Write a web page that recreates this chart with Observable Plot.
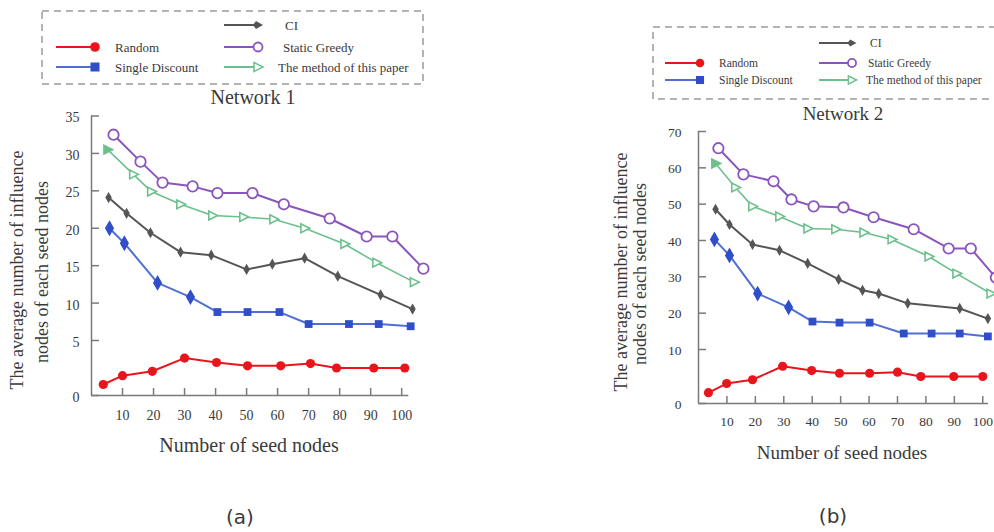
<!DOCTYPE html>
<html><head><meta charset="utf-8">
<script src="https://cdn.jsdelivr.net/npm/d3@7"></script>
<script src="https://cdn.jsdelivr.net/npm/@observablehq/plot@0.6"></script>
<style>
html,body{margin:0;padding:0;background:#fff;}
body{width:994px;height:532px;overflow:hidden;position:relative;font-family:"Liberation Serif","Times New Roman",serif;color:#333;}
.abs{position:absolute;white-space:nowrap;line-height:1;}
.rot{transform:translate(-50%,-50%) rotate(-90deg);}
.ctr{transform:translate(-50%,-50%);}
svg text{font-family:"Liberation Serif","Times New Roman",serif;}
</style></head><body>
<script>
// ---------- data ----------
const seriesNames = ["Random", "Single Discount", "CI", "Static Greedy", "The method of this paper"];
const xTickValues = [10, 20, 30, 40, 50, 60, 70, 80, 90, 100];
const net1YTicks = [0, 5, 10, 15, 20, 25, 30, 35];
const net2YTicks = [0, 10, 20, 30, 40, 50, 60, 70];

// Network 1
const net1RandomX = [3.8, 10, 19.6, 30, 40.3, 50.3, 61, 70.6, 79, 91, 101];
const net1RandomY = [1.0, 1.8, 2.2, 3.4, 3.0, 2.7, 2.7, 2.9, 2.5, 2.5, 2.5];
const net1SingleX = [5.8, 10.6, 21.3, 31.9, 40.6, 50.3, 60.6, 70, 83, 92.6, 102.9];
const net1SingleY = [20.0, 18.0, 12.7, 10.8, 8.8, 8.8, 8.8, 7.2, 7.2, 7.2, 6.9];
const net1CIX = [5.5, 11.3, 19, 28.7, 38.6, 50, 58.3, 68.7, 79.4, 93.2, 103.5];
const net1CIY = [24.1, 22.0, 19.4, 16.8, 16.4, 14.5, 15.2, 16.0, 13.6, 11.1, 9.2];
const net1GreedyX = [7.1, 15.8, 22.9, 32.6, 40.6, 51.9, 62, 76.8, 88.7, 97, 107];
const net1GreedyY = [32.5, 28.9, 26.1, 25.6, 24.7, 24.7, 23.2, 21.3, 18.9, 18.9, 14.6];
const net1MethodX = [5.2, 13.5, 19.3, 28.7, 39, 49, 58.7, 68.7, 81.6, 91.9, 104];
const net1MethodY = [30.5, 27.2, 24.9, 23.2, 21.7, 21.5, 21.2, 20.0, 17.9, 15.4, 12.8];

// Network 2
const net2RandomX = [3.5, 9.9, 19, 29.6, 39.8, 49.6, 60.2, 70, 78.2, 89.8, 100];
const net2RandomY = [2.0, 3.7, 4.4, 6.9, 6.1, 5.6, 5.6, 5.8, 5.0, 5.0, 5.0];
const net2SingleX = [5.6, 10.9, 20.8, 31.7, 40.1, 49.6, 60.2, 72.2, 82, 91.9, 101.8];
const net2SingleY = [40.3, 35.9, 25.4, 21.6, 17.7, 17.4, 17.4, 14.4, 14.4, 14.4, 13.6];
const net2CIX = [6.0, 10.9, 19, 28.5, 38.4, 49.3, 57.7, 63.4, 73.6, 91.9, 101.8];
const net2CIY = [48.6, 44.4, 38.9, 37.3, 33.7, 29.3, 26.3, 25.4, 22.7, 21.3, 18.5];
const net2GreedyX = [7.0, 15.8, 26.4, 32.7, 40.5, 51, 61.6, 75.7, 88, 95.8, 104.6];
const net2GreedyY = [65.4, 58.2, 56.3, 51.3, 49.4, 49.1, 46.4, 43.1, 37.8, 37.8, 29.8];
const net2MethodX = [6.0, 13, 19, 28.5, 38.4, 48.2, 58.1, 68, 81, 90.8, 102.8];
const net2MethodY = [61.2, 54.6, 49.4, 46.6, 43.3, 43.1, 42.2, 40.3, 35.6, 30.9, 25.4];

// ---------- styles ----------
const RED = "#e8161c", BLUE_LINE = "#4f6fd4", BLUE = "#2f4ec8", CI_C = "#555555",
      PURPLE = "#8a55bd", GREEN = "#6cc08c", AXIS = "#7a7a7a", TXT = "#3a3a3a";
const SERIF = '"Liberation Serif","Times New Roman",serif';

const triRight = {draw(ctx, size) {
  const r = Math.sqrt(size / Math.PI);
  ctx.moveTo(r * 1.1, 0); ctx.lineTo(-r * 0.8, -r * 0.95); ctx.lineTo(-r * 0.8, r * 0.95); ctx.closePath();
}};

function series(name, xs, ys) { return xs.map((x, i) => ({name, x, y: ys[i], i})); }

function panel(o) {
  const d = o.data;
  const pick = n => d.filter(e => e.name === n);
  const chart = Plot.plot({
    width: o.width, height: o.height,
    marginLeft: o.marginLeft, marginRight: o.marginRight, marginTop: 0, marginBottom: o.marginBottom,
    x: {domain: [0, 108]},
    y: {type: "linear", domain: o.yDomain, range: o.yRange},
    style: {fontFamily: SERIF, fontSize: o.fontSize + "px", color: TXT, background: "transparent", overflow: "visible"},
    marks: [
      Plot.axisY({ticks: o.yTicks, tickSize: -8, tickFormat: () => "", stroke: AXIS, strokeWidth: 1.5, label: null}),
      Plot.axisY({ticks: o.yTicks, tickSize: 0, tickPadding: o.yPad, dy: o.yDy, fontSize: o.fontSize, fontFamily: SERIF, fill: TXT, label: null}),
      Plot.axisX({ticks: xTickValues, tickSize: -7, tickFormat: () => "", stroke: AXIS, strokeWidth: 1.5, label: null}),
      Plot.axisX({ticks: xTickValues, tickSize: 0, tickPadding: o.xPad, fontSize: o.fontSize, fontFamily: SERIF, fill: TXT, label: null}),
      Plot.ruleX([0], {y1: 0, y2: o.yDomain[o.yDomain.length - 1], stroke: AXIS, strokeWidth: 1.5}),
      Plot.ruleY([0], {x1: 0, x2: o.xAxisEnd, stroke: AXIS, strokeWidth: 1.5}),
      Plot.line(pick("Static Greedy"), {x: "x", y: "y", stroke: PURPLE, strokeWidth: 2}),
      Plot.line(pick("The method of this paper"), {x: "x", y: "y", stroke: GREEN, strokeWidth: 1.6}),
      Plot.line(pick("CI"), {x: "x", y: "y", stroke: CI_C, strokeWidth: 2}),
      Plot.line(pick("Single Discount"), {x: "x", y: "y", stroke: BLUE_LINE, strokeWidth: 2}),
      Plot.line(pick("Random"), {x: "x", y: "y", stroke: RED, strokeWidth: 2}),
      Plot.dot(pick("Static Greedy"), {x: "x", y: "y", r: 5.2, fill: "white", stroke: PURPLE, strokeWidth: 1.8}),
      Plot.dot(pick("The method of this paper"), {x: "x", y: "y", r: 4.6, symbol: triRight,
        fill: e => e.i === 0 ? GREEN : "white", stroke: GREEN, strokeWidth: 1.6}),
      Plot.dot(pick("CI"), {x: "x", y: "y", r: 3.4, symbol: "diamond", fill: CI_C}),
      Plot.dot(pick("Single Discount").filter(e => e.i < 4), {x: "x", y: "y", r: 4.8, symbol: "diamond", fill: BLUE}),
      Plot.dot(pick("Single Discount").filter(e => e.i >= 4), {x: "x", y: "y", r: 4.4, symbol: "square", fill: BLUE}),
      Plot.dot(pick("Random"), {x: "x", y: "y", r: 4.6, fill: RED})
    ]
  });
  chart.style.position = "absolute";
  chart.style.left = o.left + "px";
  chart.style.top = o.top + "px";
  document.body.appendChild(chart);
}

const net1Data = [
  ...series("Random", net1RandomX, net1RandomY),
  ...series("Single Discount", net1SingleX, net1SingleY),
  ...series("CI", net1CIX, net1CIY),
  ...series("Static Greedy", net1GreedyX, net1GreedyY),
  ...series("The method of this paper", net1MethodX, net1MethodY)
];
const net2Data = [
  ...series("Random", net2RandomX, net2RandomY),
  ...series("Single Discount", net2SingleX, net2SingleY),
  ...series("CI", net2CIX, net2CIY),
  ...series("Static Greedy", net2GreedyX, net2GreedyY),
  ...series("The method of this paper", net2MethodX, net2MethodY)
];

panel({left: 0, top: 0, width: 440, height: 480, marginLeft: 91, marginRight: 14, marginBottom: 85,
  yDomain: [0, 5, 35], yRange: [395, 340, 115.5], yTicks: net1YTicks, yPad: 12, yDy: 2, xPad: 15,
  xAxisEnd: 102.3, fontSize: 14, data: net1Data});
panel({left: 600, top: 0, width: 420, height: 480, marginLeft: 98, marginRight: 15, marginBottom: 77,
  yDomain: [0, 10, 70], yRange: [403, 349, 131], yTicks: net2YTicks, yPad: 17, yDy: 1, xPad: 13,
  xAxisEnd: 102, fontSize: 13.5, data: net2Data});

// ---------- text & legends ----------
function addText(txt, x, y, size, cls, family) {
  const el = document.createElement("div");
  el.className = "abs " + cls;
  el.textContent = txt;
  el.style.left = x + "px"; el.style.top = y + "px";
  el.style.fontSize = size + "px";
  el.style.color = TXT;
  if (family) el.style.fontFamily = family;
  document.body.appendChild(el);
}
addText("Network 1", 253, 97, 20, "ctr");
addText("Network 2", 843, 113, 19, "ctr");
addText("The average number of influence", 17, 270, 18, "rot");
addText("nodes of each seed nodes", 42, 272, 18, "rot");
addText("The average number of influence", 621, 272, 18, "rot");
addText("nodes of each seed nodes", 640, 274, 18, "rot");
addText("Number of seed nodes", 249, 445, 20, "ctr");
addText("Number of seed nodes", 842, 452, 19, "ctr");
addText("(a)", 240, 517, 20, "ctr", '"DejaVu Sans",Verdana,sans-serif');
addText("(b)", 833, 516, 20, "ctr", '"DejaVu Sans",Verdana,sans-serif');

const NS = "http://www.w3.org/2000/svg";
const ov = document.createElementNS(NS, "svg");
ov.setAttribute("width", 994); ov.setAttribute("height", 532);
ov.style.position = "absolute"; ov.style.left = "0"; ov.style.top = "0"; ov.style.pointerEvents = "none";
document.body.appendChild(ov);
function el(tag, attrs) { const e = document.createElementNS(NS, tag); for (const k in attrs) e.setAttribute(k, attrs[k]); ov.appendChild(e); return e; }

function marker(kind, x, y, s) {
  if (kind === "Random") el("circle", {cx: x, cy: y, r: 4.8 * s, fill: RED});
  else if (kind === "Single Discount") el("rect", {x: x - 4.5 * s, y: y - 4.5 * s, width: 9 * s, height: 9 * s, fill: BLUE});
  else if (kind === "CI") el("path", {d: `M${x + 5 * s},${y} L${x - 2 * s},${y - 4 * s} L${x - 5 * s},${y} L${x - 2 * s},${y + 4 * s} Z`, fill: CI_C});
  else if (kind === "Static Greedy") el("circle", {cx: x, cy: y, r: 4.5 * s, fill: "white", stroke: PURPLE, "stroke-width": 1.8});
  else el("path", {d: `M${x + 5 * s},${y} L${x - 4 * s},${y - 4.5 * s} L${x - 4 * s},${y + 4.5 * s} Z`, fill: "white", stroke: GREEN, "stroke-width": 1.5});
}
const lineColor = {"Random": RED, "Single Discount": BLUE_LINE, "CI": CI_C, "Static Greedy": PURPLE, "The method of this paper": GREEN};

function legend(L) {
  el("rect", {x: L.bx, y: L.by, width: L.bw, height: L.bh, fill: "none", stroke: "#9a9a9a", "stroke-width": 1.5, "stroke-dasharray": "7,5"});
  L.items.forEach(([name, x1, x2, tx, y]) => {
    el("line", {x1, x2, y1: y, y2: y, stroke: lineColor[name], "stroke-width": 2});
    marker(name, x2, y, L.s);
    const t = el("text", {x: tx, y, "dominant-baseline": "central", "font-size": L.fs, fill: TXT});
    t.style.fontFamily = SERIF;
    t.textContent = name;
  });
}
legend({bx: 42, by: 11, bw: 381, bh: 73, fs: 13, s: 1,
  items: [
    [seriesNames[2], 224, 258, 285, 25],
    [seriesNames[0], 56, 95, 115, 47],
    [seriesNames[3], 224, 258, 283, 47],
    [seriesNames[1], 56, 95, 115, 67],
    [seriesNames[4], 224, 258, 278, 67]
  ]});
legend({bx: 653, by: 27, bw: 360, bh: 72, fs: 11.5, s: 0.9,
  items: [
    [seriesNames[2], 819, 852, 870, 43],
    [seriesNames[0], 665, 700, 719, 63],
    [seriesNames[3], 819, 852, 868, 63],
    [seriesNames[1], 665, 700, 719, 80],
    [seriesNames[4], 819, 852, 866, 80]
  ]});
</script>
</body></html>
